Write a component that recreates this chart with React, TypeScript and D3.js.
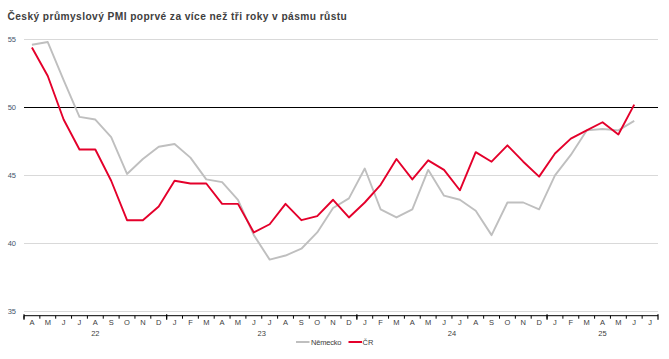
import React from "react";
import * as d3 from "d3";

// monthly PMI, April 2022 – June 2025
const months = [
  "A", "M", "J", "J", "A", "S", "O", "N", "D",
  "J", "F", "M", "A", "M", "J", "J", "A", "S", "O", "N", "D",
  "J", "F", "M", "A", "M", "J", "J", "A", "S", "O", "N", "D",
  "J", "F", "M", "A", "M", "J", "J",
];
const years = [
  { label: "22", from: 0, to: 8 },
  { label: "23", from: 9, to: 20 },
  { label: "24", from: 21, to: 32 },
  { label: "25", from: 33, to: 39 },
];
const nemecko = [
  54.6, 54.8, 52.0, 49.3, 49.1, 47.8, 45.1, 46.2, 47.1,
  47.3, 46.3, 44.7, 44.5, 43.2, 40.6, 38.8, 39.1, 39.6, 40.8, 42.6, 43.3,
  45.5, 42.5, 41.9, 42.5, 45.4, 43.5, 43.2, 42.4, 40.6, 43.0, 43.0, 42.5,
  45.0, 46.5, 48.3, 48.4, 48.3, 49.0,
];
const cr = [
  54.4, 52.3, 49.1, 46.9, 46.9, 44.6, 41.7, 41.7, 42.7,
  44.6, 44.4, 44.4, 42.9, 42.9, 40.8, 41.4, 42.9, 41.7, 42.0, 43.2, 41.9,
  43.0, 44.3, 46.2, 44.7, 46.1, 45.4, 43.9, 46.7, 46.0, 47.2, 46.0, 44.9,
  46.6, 47.7, 48.3, 48.9, 48.0, 50.2,
];
const yTicks = [35, 40, 45, 50, 55];

const W = 669;
const H = 359;
const font = "'Liberation Sans', Arial, sans-serif";

export default function App() {
  const x = d3.scaleBand<number>().domain(d3.range(months.length)).range([24, 658]);
  const y = d3.scaleLinear().domain([35, 55]).range([311.3, 39.3]);
  const cx = (i: number) => (x(i) ?? 0) + x.bandwidth() / 2;
  const axisY = 315.7;

  const line = d3
    .line<number>()
    .x((_, i) => cx(i))
    .y((d) => y(d));

  const yearStarts = years.map((g) => g.from).concat([months.length]);

  return (
    <svg
      width={W}
      height={H}
      style={{ position: "absolute", left: 0, top: 0, background: "#fff" }}
      fontFamily={font}
    >
      <text x={7.5} y={19.5} fontSize={10.2} fontWeight="bold" fill="#404040" letterSpacing={0.42}>
        Český průmyslový PMI poprvé za více než tři roky v pásmu růstu
      </text>

      {/* grid */}
      {yTicks.map((t) => (
        <g key={t}>
          <line
            x1={24}
            x2={658}
            y1={Math.round(y(t)) + 0.5}
            y2={Math.round(y(t)) + 0.5}
            stroke={t === 50 ? "#000" : "#d9d9d9"}
            strokeWidth={1}
          />
          <text x={16} y={y(t) + 2.6} fontSize={7.5} fill="#44546a" textAnchor="end">
            {t}
          </text>
        </g>
      ))}

      {/* x axis */}
      <line x1={24} x2={658} y1={axisY} y2={axisY} stroke="#000" strokeWidth={1} />
      {months.map((m, i) => (
        <g key={i}>
          <line x1={x(i)} x2={x(i)} y1={axisY} y2={axisY + 3} stroke="#000" />
          <text x={cx(i)} y={324.5} fontSize={7.5} fill="#404040" textAnchor="middle">
            {m}
          </text>
        </g>
      ))}
      {yearStarts.map((s) => {
        const px = s < months.length ? x(s) ?? 0 : 658;
        return <line key={s} x1={px} x2={px} y1={axisY - 1.5} y2={axisY + 4} stroke="#000" strokeWidth={1.2} />;
      })}
      {years.map((g) => (
        <text
          key={g.label}
          x={((x(g.from) ?? 0) + (x(g.to) ?? 0) + x.bandwidth()) / 2}
          y={336}
          fontSize={7.5}
          fill="#404040"
          textAnchor="middle"
        >
          {g.label}
        </text>
      ))}

      {/* series */}
      <path d={line(nemecko) ?? ""} fill="none" stroke="#bfbfbf" strokeWidth={1.9} strokeLinejoin="round" />
      <path d={line(cr) ?? ""} fill="none" stroke="#e4002b" strokeWidth={1.9} strokeLinejoin="round" />

      {/* legend */}
      <line x1={296} x2={309.5} y1={342} y2={342} stroke="#bfbfbf" strokeWidth={2} />
      <text x={311} y={344.8} fontSize={7.5} fill="#404040" letterSpacing={-0.2}>
        Německo
      </text>
      <line x1={348.5} x2={362} y1={342} y2={342} stroke="#e4002b" strokeWidth={2} />
      <text x={362.5} y={344.8} fontSize={7.5} fill="#404040">
        ČR
      </text>
    </svg>
  );
}
